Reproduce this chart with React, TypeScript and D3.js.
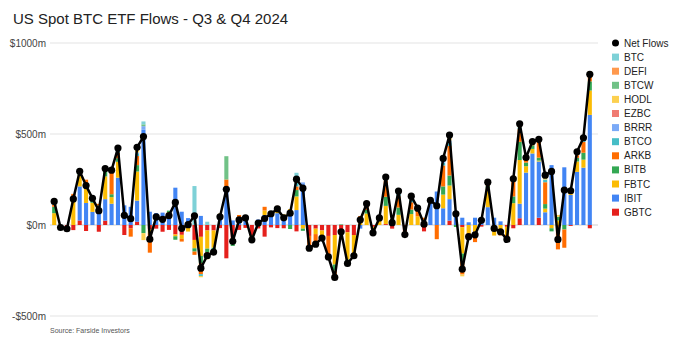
import { useEffect, useRef } from 'react'
import * as d3 from 'd3'

const dates = [
  '07-01', '07-02', '07-03', '07-05', '07-08', '07-09', '07-10', '07-11', '07-12', '07-15', '07-16',
  '07-17', '07-18', '07-19', '07-22', '07-23', '07-24', '07-25', '07-26', '07-29', '07-30', '07-31',
  '08-01', '08-02', '08-05', '08-06', '08-07', '08-08', '08-09', '08-12', '08-13', '08-14', '08-15',
  '08-16', '08-19', '08-20', '08-21', '08-22', '08-23', '08-26', '08-27', '08-28', '08-29', '08-30',
  '09-03', '09-04', '09-05', '09-06', '09-09', '09-10', '09-11', '09-12', '09-13', '09-16', '09-17',
  '09-18', '09-19', '09-20', '09-23', '09-24', '09-25', '09-26', '09-27', '09-30',
  '10-01', '10-02', '10-03', '10-04', '10-07', '10-08', '10-09', '10-10', '10-11', '10-14', '10-15',
  '10-16', '10-17', '10-18', '10-21', '10-22', '10-23', '10-24', '10-25', '10-28', '10-29',
]

const netFlows = [
  129.5, -13.7, -20.5, 143.1, 294.9, 216.4, 147.0, 78.9, 310.1, 301.0,
  422.5, 53.3, 35, 427, 485.9, -78.0, 44.5, 31.1, 51.8, 124.1,
  -18.3, 2, 50.6, -237.4, -168.4, -148.6, 45.1, 196, -89.7, 27.9,
  39.1, -81.4, 11.1, 35.6, 61.9, 88.1, 39.4, 64.9, 252.0, 202.6,
  -127.1, -105.2, -71.8, -175.3, -287.8, -37.3, -211.2, -168.9, 28.7, 116.9,
  -43.0, 39.0, 263.1, 12.8, 186.8, -52.8, 158.3, 92.7, 4.5, 136.0,
  105.9, 365.7, 494.4, 61.3, -242.6, -64, -54.1, 25.6, 235.2, -18.7,
  -37, -79, 253.6, 555.9, 371.0, 458.5, 470.5, 273.7, 294.3, -79.1,
  192.4, 188.1, 402.1, 479.4, 828,
]

const gbtc = [
  0, 0, -15, -28, 25, -33, 0, -37, 24, 0,
  0, -55, -18, 18, 0, -25, -20, -37, -27, -52,
  -54, -16, -82, -65, -30, -30, -17, -183, -70, -27,
  -16, -56, -19, -64, -13, -17, -18, 0, -35, 0,
  -60, -20, -30, -60, -55, -40, -40, -55, 0, 0,
  -10, 0, 5, -20, 0, -35, 0, 0, -35, 0,
  0, 0, 24, 0, -12, 0, 0, -9, 0, 0,
  0, -10, -18, 37, 0, 0, 40, 0, 0, 0,
  0, -5, 0, 0, -18,
]
const ibit = [
  0, 0, 0, 0, 187, 121, 72, 72, 118, 117,
  260, 108, 100, 116, 523, 73, 65, 68, 65, 205,
  73, 38, 0, 50, 0, 0, 52, 200, 25, 30,
  40, 0, 30, 55, 70, 65, 55, 75, 82, 224,
  0, 0, 0, 0, 0, 0, 0, 0, -20, 0,
  0, 0, 0, 0, 0, 0, 0, 0, 0, 125,
  184, 92, 118, 72, 40, 15, 40, 20, 98, 40,
  20, 0, 0, 80, 288, 393, 309, 70, 329, 0,
  317, 165, 292, 315, 605,
]
const fbtc = [
  65, -10, -6, 135, 61, 88, 50, 25, 125, 36,
  87, 0, 0, 160, 0, -20, 0, 0, 6, -10,
  -22, -20, -46, -105, -100, -95, 10, 0, -25, 10,
  0, -15, 0, 25, 0, 10, 3, 12, 75, -20,
  0, -30, -30, 0, -162, 0, -150, -100, 20, 63,
  -25, 25, 100, 25, 56, -18, 60, 48, 25, 11,
  0, 75, 75, 0, -145, -45, -37, 15, 103, -58,
  -25, -45, 120, 240, 35, 25, 5, 20, -18, 25,
  0, 28, 57, 44, 134,
]
const bitb = [
  35, 0, 0, 16, 12, 0, 25, 10, 30, 16,
  20, 0, 0, 35, -45, 0, 0, 0, 8, -19,
  0, 0, -18, -40, -20, -10, 0, 0, -20, 0,
  15, 0, 0, 0, 5, 0, 0, -22, 35, -12,
  0, 0, -12, 0, -35, 3, -21, 0, 0, 20,
  0, 0, 50, 8, 40, 0, 25, 0, 0, 0,
  0, 45, 55, -11, -40, 0, 0, 0, 14, 0,
  -12, 0, 37, 100, 20, 20, 16, 25, -17, 20,
  -25, 0, 20, 38, 50,
]
const arkb = [
  12, -4, 0, 20, 10, 40, 0, 9, 13, 117,
  30, 0, -46, 50, 0, -107, 0, 0, 0, 0,
  -15, 0, -18, -60, -28, -14, 0, 50, 0, 15,
  0, -10, 0, 20, 0, 30, 0, 0, 20, 0,
  -67, -55, 0, -100, -36, 0, 0, -14, 29, 34,
  -8, 14, 90, 0, 62, 0, 40, 35, 15, 0,
  -78, 115, 162, 0, -75, -34, -57, 0, 20, 0,
  -20, -24, 100, 70, 28, 10, 100, 120, 0, -134,
  -100, 0, 15, 60, 30,
]
const btco = [
  18, 0, 0, 0, 0, 0, 0, 0, 0, 0,
  10, 0, 0, 15, 0, 0, 0, 0, 0, 0,
  0, 0, 0, -10, 0, 0, 0, 0, 0, 0,
  0, 0, 0, 0, 0, 0, 0, 0, 20, 0,
  0, 0, 0, -15, 0, 0, 0, 0, 0, 0,
  0, 0, 8, 0, 14, 0, 15, 10, 0, 0,
  0, 15, 20, 0, 0, 0, 0, 0, 0, 0,
  0, 0, 0, 10, 0, 0, 0, 15, 0, 0,
  0, 0, 8, 10, 12,
]
const brrr = [
  0, 0, 0, 0, 0, 0, 0, 0, 0, 0,
  5, 0, 0, 5, 20, 0, 0, 0, 0, 0,
  0, 0, 0, 0, 0, 0, 0, 0, 0, 0,
  0, 0, 0, 0, 0, 0, 0, 0, 0, 10,
  0, 0, 0, 0, 0, 0, 0, 0, 0, 0,
  0, 0, 0, 0, 0, 0, 0, 0, 0, 0,
  0, 10, 10, 0, 0, 0, 0, 0, 0, 0,
  0, 0, 0, 0, 0, 0, 0, 0, 0, 0,
  0, 0, 0, 0, 0,
]
const ezbc = [
  0, 0, 0, 0, 0, 0, 0, 0, 0, 0,
  0, 0, 0, 0, 0, 0, 0, 0, 0, 0,
  0, 0, 0, 0, 0, 0, 0, 0, 0, 0,
  0, 0, 0, 0, 0, 0, 0, 0, 0, 0,
  0, 0, 0, 0, 0, 0, 0, 0, 0, 0,
  0, 0, 0, 0, 0, 0, 0, 0, 0, 0,
  0, 0, 0, 0, 0, 0, 0, 0, 0, 0,
  0, 0, 0, 0, 0, 0, 0, 0, 0, 0,
  0, 0, 0, 0, 0,
]
const hodl = [
  0, 0, 0, 0, 0, 0, 0, 0, 0, 15,
  10, 0, 0, 20, -38, 0, 0, 0, 0, 0,
  0, 0, 0, -7, -10, 0, 0, 0, 0, 0,
  0, 0, 0, 0, 0, 0, 0, 0, 10, 0,
  0, 0, 0, 0, 0, 0, 0, 0, 0, 0,
  0, 0, 10, 0, 15, 0, 18, 0, 0, 0,
  0, 14, 20, 0, -10, 0, 0, 0, 0, 0,
  0, 0, 14, 10, 0, 10, 0, 24, 0, 10,
  0, 0, 10, 12, 15,
]
const btcw = [
  0, 0, 0, 0, 0, 0, 0, 0, 0, 0,
  0, 0, 0, 8, 10, 0, 0, 0, 0, 0,
  0, 0, 0, 0, 0, 0, 0, 128, 0, 0,
  0, 0, 0, 0, 0, 0, 0, 0, 0, 0,
  0, 0, 0, 0, 0, 0, 0, 0, 0, 0,
  0, 0, 0, 0, 0, 0, 0, 0, 0, 0,
  0, 0, 10, 0, 0, 0, 0, 0, 0, 0,
  0, 0, 0, 9, 0, 0, 0, 0, 0, 0,
  0, 0, 0, 0, 0,
]
const defi = [
  0, 0, 0, 0, 0, 0, 0, 0, 0, 0,
  0, 0, 0, 0, 0, 0, 0, 0, 0, 0,
  0, 0, 0, 0, 0, 0, 0, 0, 0, 0,
  0, 0, 0, 0, 0, 0, 0, 0, 0, 0,
  0, 0, 0, 0, 0, 0, 0, 0, 0, 0,
  0, 0, 0, 0, 0, 0, 0, 0, 0, 0,
  0, 0, 0, 0, 0, 0, 0, 0, 0, 0,
  0, 0, 0, 0, 0, 0, 0, 0, 0, 0,
  0, 0, 0, 0, 0,
]
const btc = [
  0, 0, 0, 0, 0, 0, 0, 0, 0, 0,
  0, 0, 0, 0, 16, 0, 0, 0, 0, 0,
  0, 0, 214, 0, 18, 0, 0, 0, 0, 0,
  0, 0, 0, 0, 0, 0, 0, 0, 45, 0,
  0, 0, 0, 0, 0, 0, 0, 0, 0, 0,
  0, 0, 0, 0, 0, 0, 0, 0, 0, 0,
  0, 0, 0, 0, 0, 0, 0, 0, 0, 0,
  0, 0, 0, 0, 0, 0, 0, 0, 0, 0,
  0, 0, 0, 0, 0,
]

// stacking order, bottom (nearest zero) first
const funds = ['GBTC', 'IBIT', 'FBTC', 'BITB', 'ARKB', 'BTCO', 'BRRR', 'EZBC', 'HODL', 'BTCW', 'DEFI', 'BTC']
const fundValues = [gbtc, ibit, fbtc, bitb, arkb, btco, brrr, ezbc, hodl, btcw, defi, btc]
const fundColors = ['#e5201c', '#4285f4', '#fbbc04', '#34a853', '#ff6d01', '#46bdc6', '#7baaf7', '#f07b72', '#fcd04f', '#71c287', '#ff994d', '#7ed1d7']

const yTicks = [-500, 0, 500, 1000]

const FONT = 'Liberation Sans, Arial, sans-serif'

export default function App() {
  const ref = useRef<SVGSVGElement | null>(null)

  useEffect(() => {
    const svg = d3.select(ref.current)
    svg.selectAll('*').remove()

    const width = 679
    const height = 351
    const left = 51
    const right = 593

    const rows = dates.map((d, i) => {
      const row: any = { date: d }
      funds.forEach((f, j) => { row[f] = fundValues[j][i] })
      return row
    })

    const x = d3.scaleBand<string>()
      .domain(dates)
      .range([left, right])
      .paddingInner(0.36)
      .paddingOuter(0.18)

    const y = d3.scaleLinear()
      .domain([-500, 1000])
      .range([316, 43])

    svg.append('rect').attr('width', width).attr('height', height).attr('fill', '#fff')

    svg.append('text')
      .attr('x', 13)
      .attr('y', 24)
      .attr('font-family', FONT)
      .attr('font-size', 15)
      .attr('fill', '#222')
      .text('US Spot BTC ETF Flows - Q3 & Q4 2024')

    // grid + y labels
    svg.append('g')
      .selectAll('line')
      .data(yTicks)
      .enter().append('line')
      .attr('x1', 50)
      .attr('x2', 598)
      .attr('y1', d => y(d))
      .attr('y2', d => y(d))
      .attr('stroke', d => d === 0 ? '#cfcfcf' : '#e3e3e3')
      .attr('stroke-width', 1)

    svg.append('g')
      .selectAll('text')
      .data(yTicks)
      .enter().append('text')
      .attr('x', 46)
      .attr('y', d => y(d) + 3.5)
      .attr('text-anchor', 'end')
      .attr('font-family', FONT)
      .attr('font-size', 10)
      .attr('fill', '#444')
      .text(d => (d < 0 ? '-$' + Math.abs(d) : '$' + d) + 'm')

    const stacked = d3.stack<any>()
      .keys(funds)
      .offset(d3.stackOffsetDiverging)(rows)

    svg.append('g')
      .selectAll('g')
      .data(stacked)
      .enter().append('g')
      .attr('fill', (d, i) => fundColors[i])
      .selectAll('rect')
      .data(d => d.filter(p => p[1] !== p[0]))
      .enter().append('rect')
      .attr('x', d => x(d.data.date) as number)
      .attr('width', x.bandwidth())
      .attr('y', d => y(Math.max(d[0], d[1])))
      .attr('height', d => Math.abs(y(d[0]) - y(d[1])))

    const cx = (i: number) => (x(dates[i]) as number) + x.bandwidth() / 2

    const line = d3.line<number>()
      .x((d, i) => cx(i))
      .y(d => y(d))

    svg.append('path')
      .datum(netFlows)
      .attr('d', line)
      .attr('fill', 'none')
      .attr('stroke', '#000')
      .attr('stroke-width', 2.5)
      .attr('stroke-linejoin', 'round')

    svg.append('g')
      .selectAll('circle')
      .data(netFlows)
      .enter().append('circle')
      .attr('cx', (d, i) => cx(i))
      .attr('cy', d => y(d))
      .attr('r', 3.6)
      .attr('fill', '#000')

    // legend
    const legendItems = ['Net Flows', ...funds.slice().reverse()]
    const legendColors = ['#000', ...fundColors.slice().reverse()]
    const lg = svg.append('g')
    legendItems.forEach((name, i) => {
      const ly = 43 + i * 14.1
      if (i === 0) {
        lg.append('circle').attr('cx', 615.5).attr('cy', ly).attr('r', 3.5).attr('fill', '#000')
      } else {
        lg.append('rect').attr('x', 612).attr('y', ly - 3.5).attr('width', 7).attr('height', 7).attr('fill', legendColors[i])
      }
      lg.append('text')
        .attr('x', 624)
        .attr('y', ly + 3.5)
        .attr('font-family', FONT)
        .attr('font-size', 10)
        .attr('fill', '#222')
        .text(name)
    })

    svg.append('text')
      .attr('x', 50)
      .attr('y', 333)
      .attr('font-family', FONT)
      .attr('font-size', 7)
      .attr('fill', '#555')
      .text('Source: Farside Investors')
  }, [])

  return (
    <svg ref={ref} width={679} height={351} style={{ position: 'absolute', left: 0, top: 0 }} />
  )
}
